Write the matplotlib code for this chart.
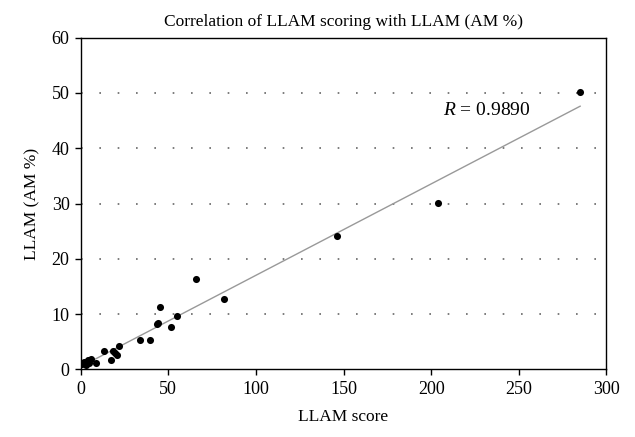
import numpy as np
import matplotlib.pyplot as plt

plt.rcParams['font.family'] = 'Liberation Serif'
plt.rcParams['mathtext.fontset'] = 'custom'
plt.rcParams['mathtext.it'] = 'Liberation Serif:italic'
plt.rcParams['mathtext.rm'] = 'Liberation Serif'

# values
llam_score = [1, 2, 3, 4, 5, 6, 8.5, 13.5, 17.5, 18.5, 19.5, 20.5, 22,
              34, 39.5, 43.5, 44, 45.5, 51.5, 55, 66, 82, 146, 204, 285]
llam_am = [1.0, 1.3, 0.9, 1.7, 1.2, 1.9, 1.1, 3.3, 1.8, 3.4, 3.0, 2.7, 4.3,
           5.3, 5.3, 8.2, 8.4, 11.3, 7.7, 9.7, 16.4, 12.7, 24.1, 30.1, 50.1]
r_text = "$\\it{R}$ = 0.9890"

x = np.array(llam_score)
y = np.array(llam_am)
slope, icpt = np.polyfit(x, y, 1)
xl = np.array([x.min(), x.max()])

fig = plt.figure(figsize=(6.35, 4.37), dpi=100)
ax = fig.add_axes([0.127, 0.1545, 0.828, 0.7595])

for v in [10, 20, 30, 40, 50]:
    ax.axhline(v, color="#666666", lw=1.2, ls=(0, (1, 10)), zorder=0)

ax.plot(xl, slope * xl + icpt, color="#999999", lw=1.0, zorder=1)
ax.scatter(x, y, s=26, color="black", zorder=2, linewidths=0)

ax.text(207, 46.9, r_text, fontsize=14, va="center", ha="left")

ax.set_xlim(0, 300)
ax.set_ylim(0, 60)
ax.set_xticks(np.arange(0, 301, 50))
ax.set_yticks(np.arange(0, 61, 10))
ax.tick_params(direction="out", length=4, width=1, labelsize=13, pad=4)
for sp in ax.spines.values():
    sp.set_linewidth(1.0)

ax.set_xlabel("LLAM score", fontsize=12.5, labelpad=8)
ax.set_ylabel("LLAM (AM %)", fontsize=12.5, labelpad=8)
ax.set_title("Correlation of LLAM scoring with LLAM (AM %)", fontsize=12.5, pad=8)

fig.savefig("out.png", dpi=100)
